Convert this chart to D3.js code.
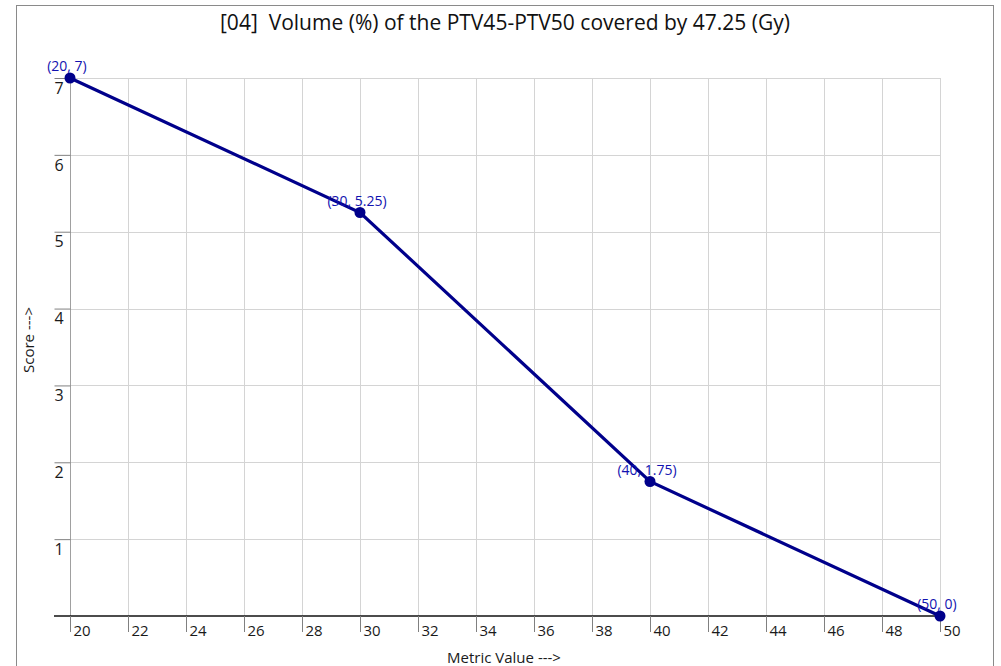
<!DOCTYPE html>
<html><head><meta charset="utf-8">
<script src="https://cdn.jsdelivr.net/npm/d3@7"></script>
<style>body{margin:0;background:#fff;}svg{display:block;font-family:"Open Sans","Noto Sans",sans-serif;}text{white-space:pre;}</style>
</head><body><svg id="c" width="1001" height="666"></svg>
<script>
const title = "[04]  Volume (%) of the PTV45-PTV50 covered by 47.25 (Gy)";
const xLabel = "Metric Value --->";
const yLabel = "Score --->";
const metricValues = [20, 30, 40, 50];
const scores = [7, 5.25, 1.75, 0];
const pointLabels = ["(20, 7)", "(30, 5.25)", "(40, 1.75)", "(50, 0)"];
const xTicks = [20,22,24,26,28,30,32,34,36,38,40,42,44,46,48,50];
const yTicks = [1,2,3,4,5,6,7];

const svg = d3.select("#c");
const x = d3.scaleLinear().domain([20,50]).range([70,940]);
const y = d3.scaleLinear().domain([0,7]).range([616,78]);
const FF = "'Open Sans','Noto Sans',sans-serif";

// outer border
svg.append("rect").attr("x",16.5).attr("y",5.5).attr("width",977).attr("height",700)
  .attr("fill","none").attr("stroke","#8a8a8a").attr("stroke-width",1);

// grid
svg.append("g").selectAll("line").data(yTicks).join("line")
  .attr("x1",70).attr("x2",940).attr("y1",d=>Math.round(y(d))+0.5).attr("y2",d=>Math.round(y(d))+0.5)
  .attr("stroke","#d4d4d4");
svg.append("g").selectAll("line").data(xTicks.slice(1)).join("line")
  .attr("x1",d=>Math.round(x(d))+0.5).attr("x2",d=>Math.round(x(d))+0.5).attr("y1",78).attr("y2",616)
  .attr("stroke","#d4d4d4");

// y axis
const yAxis = d3.axisLeft(y).tickValues(yTicks).tickSize(16).tickFormat(d3.format("d"));
const gy = svg.append("g").attr("transform","translate(70.5,0)").call(yAxis)
  .attr("font-size",16).attr("font-family",FF);
gy.select(".domain").attr("stroke","#a0a0a0").attr("d","M0,78V616");
gy.selectAll(".tick line").attr("stroke","#808080");
gy.selectAll(".tick text").attr("x",-16).attr("dy","0.95em").attr("text-anchor","start").attr("fill","#1a1a1a");

// x axis
const gx = svg.append("g").attr("transform","translate(0,616)")
  .call(d3.axisBottom(x).tickValues(xTicks).tickSize(16).tickFormat(d3.format("d")))
  .attr("font-size",15).attr("font-family",FF);
gx.select(".domain").attr("stroke","#111").attr("stroke-width",1.5).attr("d","M54,0H940");
gx.selectAll(".tick line").attr("stroke","#808080");
gx.selectAll(".tick text").attr("x",3).attr("y",6).attr("dy","0.9em").attr("text-anchor","start").attr("fill","#1a1a1a");

// title
svg.append("text").attr("x",505).attr("y",30).attr("text-anchor","middle")
  .attr("font-size",21).attr("fill","#111").text(title);
// axis titles
svg.append("text").attr("x",504).attr("y",663).attr("text-anchor","middle")
  .attr("font-size",15).attr("fill","#1a1a1a").text(xLabel);
svg.append("text").attr("transform","translate(34,340) rotate(-90)").attr("text-anchor","middle")
  .attr("font-size",15).attr("fill","#1a1a1a").text(yLabel);

// line
const data = metricValues.map((m,i)=>({m, s:scores[i], l:pointLabels[i]}));
svg.append("path").datum(data)
  .attr("d", d3.line().x(d=>x(d.m)).y(d=>y(d.s)))
  .attr("fill","none").attr("stroke","#00008b").attr("stroke-width",3.2);
svg.append("g").selectAll("circle").data(data).join("circle")
  .attr("cx",d=>x(d.m)).attr("cy",d=>y(d.s)).attr("r",5.5).attr("fill","#00008b");
svg.append("g").selectAll("text").data(data).join("text")
  .attr("x",d=>x(d.m)-3).attr("y",d=>y(d.s)-7).attr("text-anchor","middle")
  .attr("font-size",14).attr("fill","#1212b0").text(d=>d.l);
</script></body></html>
